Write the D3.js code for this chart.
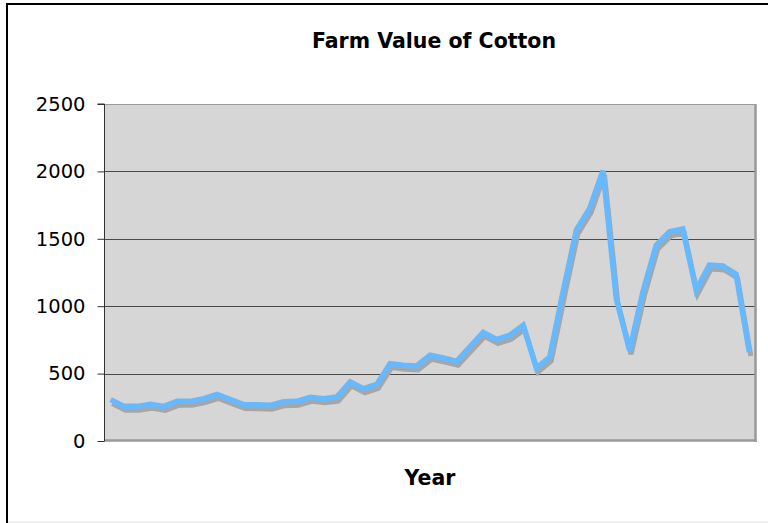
<!DOCTYPE html>
<html>
<head>
<meta charset="utf-8">
<script src="https://cdn.jsdelivr.net/npm/d3@7"></script>
<style>
  body { margin: 0; background: #fff; }
  svg { display: block; }
  text { font-family: "DejaVu Sans", Verdana, sans-serif; }
</style>
</head>
<body>
<svg id="chart" width="768" height="523"></svg>
<script>
// ---- data ----
const categories = ["1","2","3","4","5","6","7","8","9","10","11","12","13","14","15","16","17","18","19","20","21","22","23","24","25","26","27","28","29","30","31","32","33","34","35","36","37","38","39","40","41","42","43","44","45","46","47","48","49"];
const values = [307, 257, 257, 272, 257, 294, 294, 314, 346, 307, 270, 268, 265, 292, 294, 324, 314, 326, 438, 388, 420, 574, 562, 557, 636, 616, 591, 698, 805, 753, 785, 859, 540, 623, 1106, 1565, 1726, 2005, 1057, 673, 1106, 1453, 1552, 1572, 1119, 1305, 1299, 1238, 660];
const yTicks = [0, 500, 1000, 1500, 2000, 2500];
const title = "Farm Value of Cotton";
const xTitle = "Year";

// ---- layout ----
const svg = d3.select("#chart");
const pL = 104, pR = 756, pT = 104, pB = 441;

const x = d3.scalePoint().domain(categories).range([pL, pR]).padding(0.5);
const y = d3.scaleLinear().domain([0, 2500]).range([pB, pT]);

// outer frame
svg.append("line").attr("x1", 7).attr("x2", 7).attr("y1", 3).attr("y2", 523)
  .attr("stroke", "#000").attr("stroke-width", 2);
svg.append("line").attr("x1", 6).attr("x2", 768).attr("y1", 4).attr("y2", 4)
  .attr("stroke", "#000").attr("stroke-width", 2);
svg.append("line").attr("x1", 8).attr("x2", 768).attr("y1", 522).attr("y2", 522)
  .attr("stroke", "#e0e0e0").attr("stroke-width", 1);

// plot background
svg.append("rect").attr("x", pL).attr("y", pT)
  .attr("width", pR - pL).attr("height", pB - pT)
  .attr("fill", "#d6d6d6");

// gridlines
svg.append("g").selectAll("line").data(yTicks.filter(d => d > 0 && d < 2500)).join("line")
  .attr("x1", pL).attr("x2", pR)
  .attr("y1", d => Math.round(y(d)) + 0.5).attr("y2", d => Math.round(y(d)) + 0.5)
  .attr("stroke", "#4a4a4a").attr("stroke-width", 1);

// plot borders
svg.append("line").attr("x1", pL).attr("x2", pR).attr("y1", pT + 0.5).attr("y2", pT + 0.5)
  .attr("stroke", "#9a9a9a").attr("stroke-width", 1);
svg.append("line").attr("x1", pR - 0.5).attr("x2", pR - 0.5).attr("y1", pT).attr("y2", pB + 1)
  .attr("stroke", "#999").attr("stroke-width", 2.5);
svg.append("line").attr("x1", pL).attr("x2", pR + 0.5).attr("y1", pB - 0.5).attr("y2", pB - 0.5)
  .attr("stroke", "#999").attr("stroke-width", 2.5);

// y axis
const yAxis = d3.axisLeft(y).tickValues(yTicks).tickSize(7).tickPadding(12).tickFormat(d3.format("d"));
const ga = svg.append("g").attr("transform", `translate(${pL + 0.5},0)`).call(yAxis);
ga.select(".domain").attr("stroke", "#333").attr("d", `M-7,${pT}H0V${pB}`);
ga.selectAll(".tick line").attr("stroke", "#333");
ga.selectAll(".tick text").attr("font-size", 19.5).attr("fill", "#000")
  .attr("font-family", "DejaVu Sans, Verdana, sans-serif");

// line with shadow
const line = d3.line().x((d, i) => x(categories[i])).y(d => y(d));
svg.append("path").datum(values)
  .attr("d", line).attr("transform", "translate(1.5,4)")
  .attr("fill", "none").attr("stroke", "#a6a6a6").attr("stroke-width", 5)
  .attr("stroke-linejoin", "miter");
svg.append("path").datum(values)
  .attr("d", line)
  .attr("fill", "none").attr("stroke", "#66b8ff").attr("stroke-width", 5.5)
  .attr("stroke-linejoin", "miter");

// titles
svg.append("text").attr("x", 434).attr("y", 48).attr("text-anchor", "middle")
  .attr("font-size", 20.5).attr("font-weight", "bold").attr("fill", "#000").text(title);
svg.append("text").attr("x", 430).attr("y", 485).attr("text-anchor", "middle")
  .attr("font-size", 20.5).attr("font-weight", "bold").attr("fill", "#000").text(xTitle);
</script>
</body>
</html>
